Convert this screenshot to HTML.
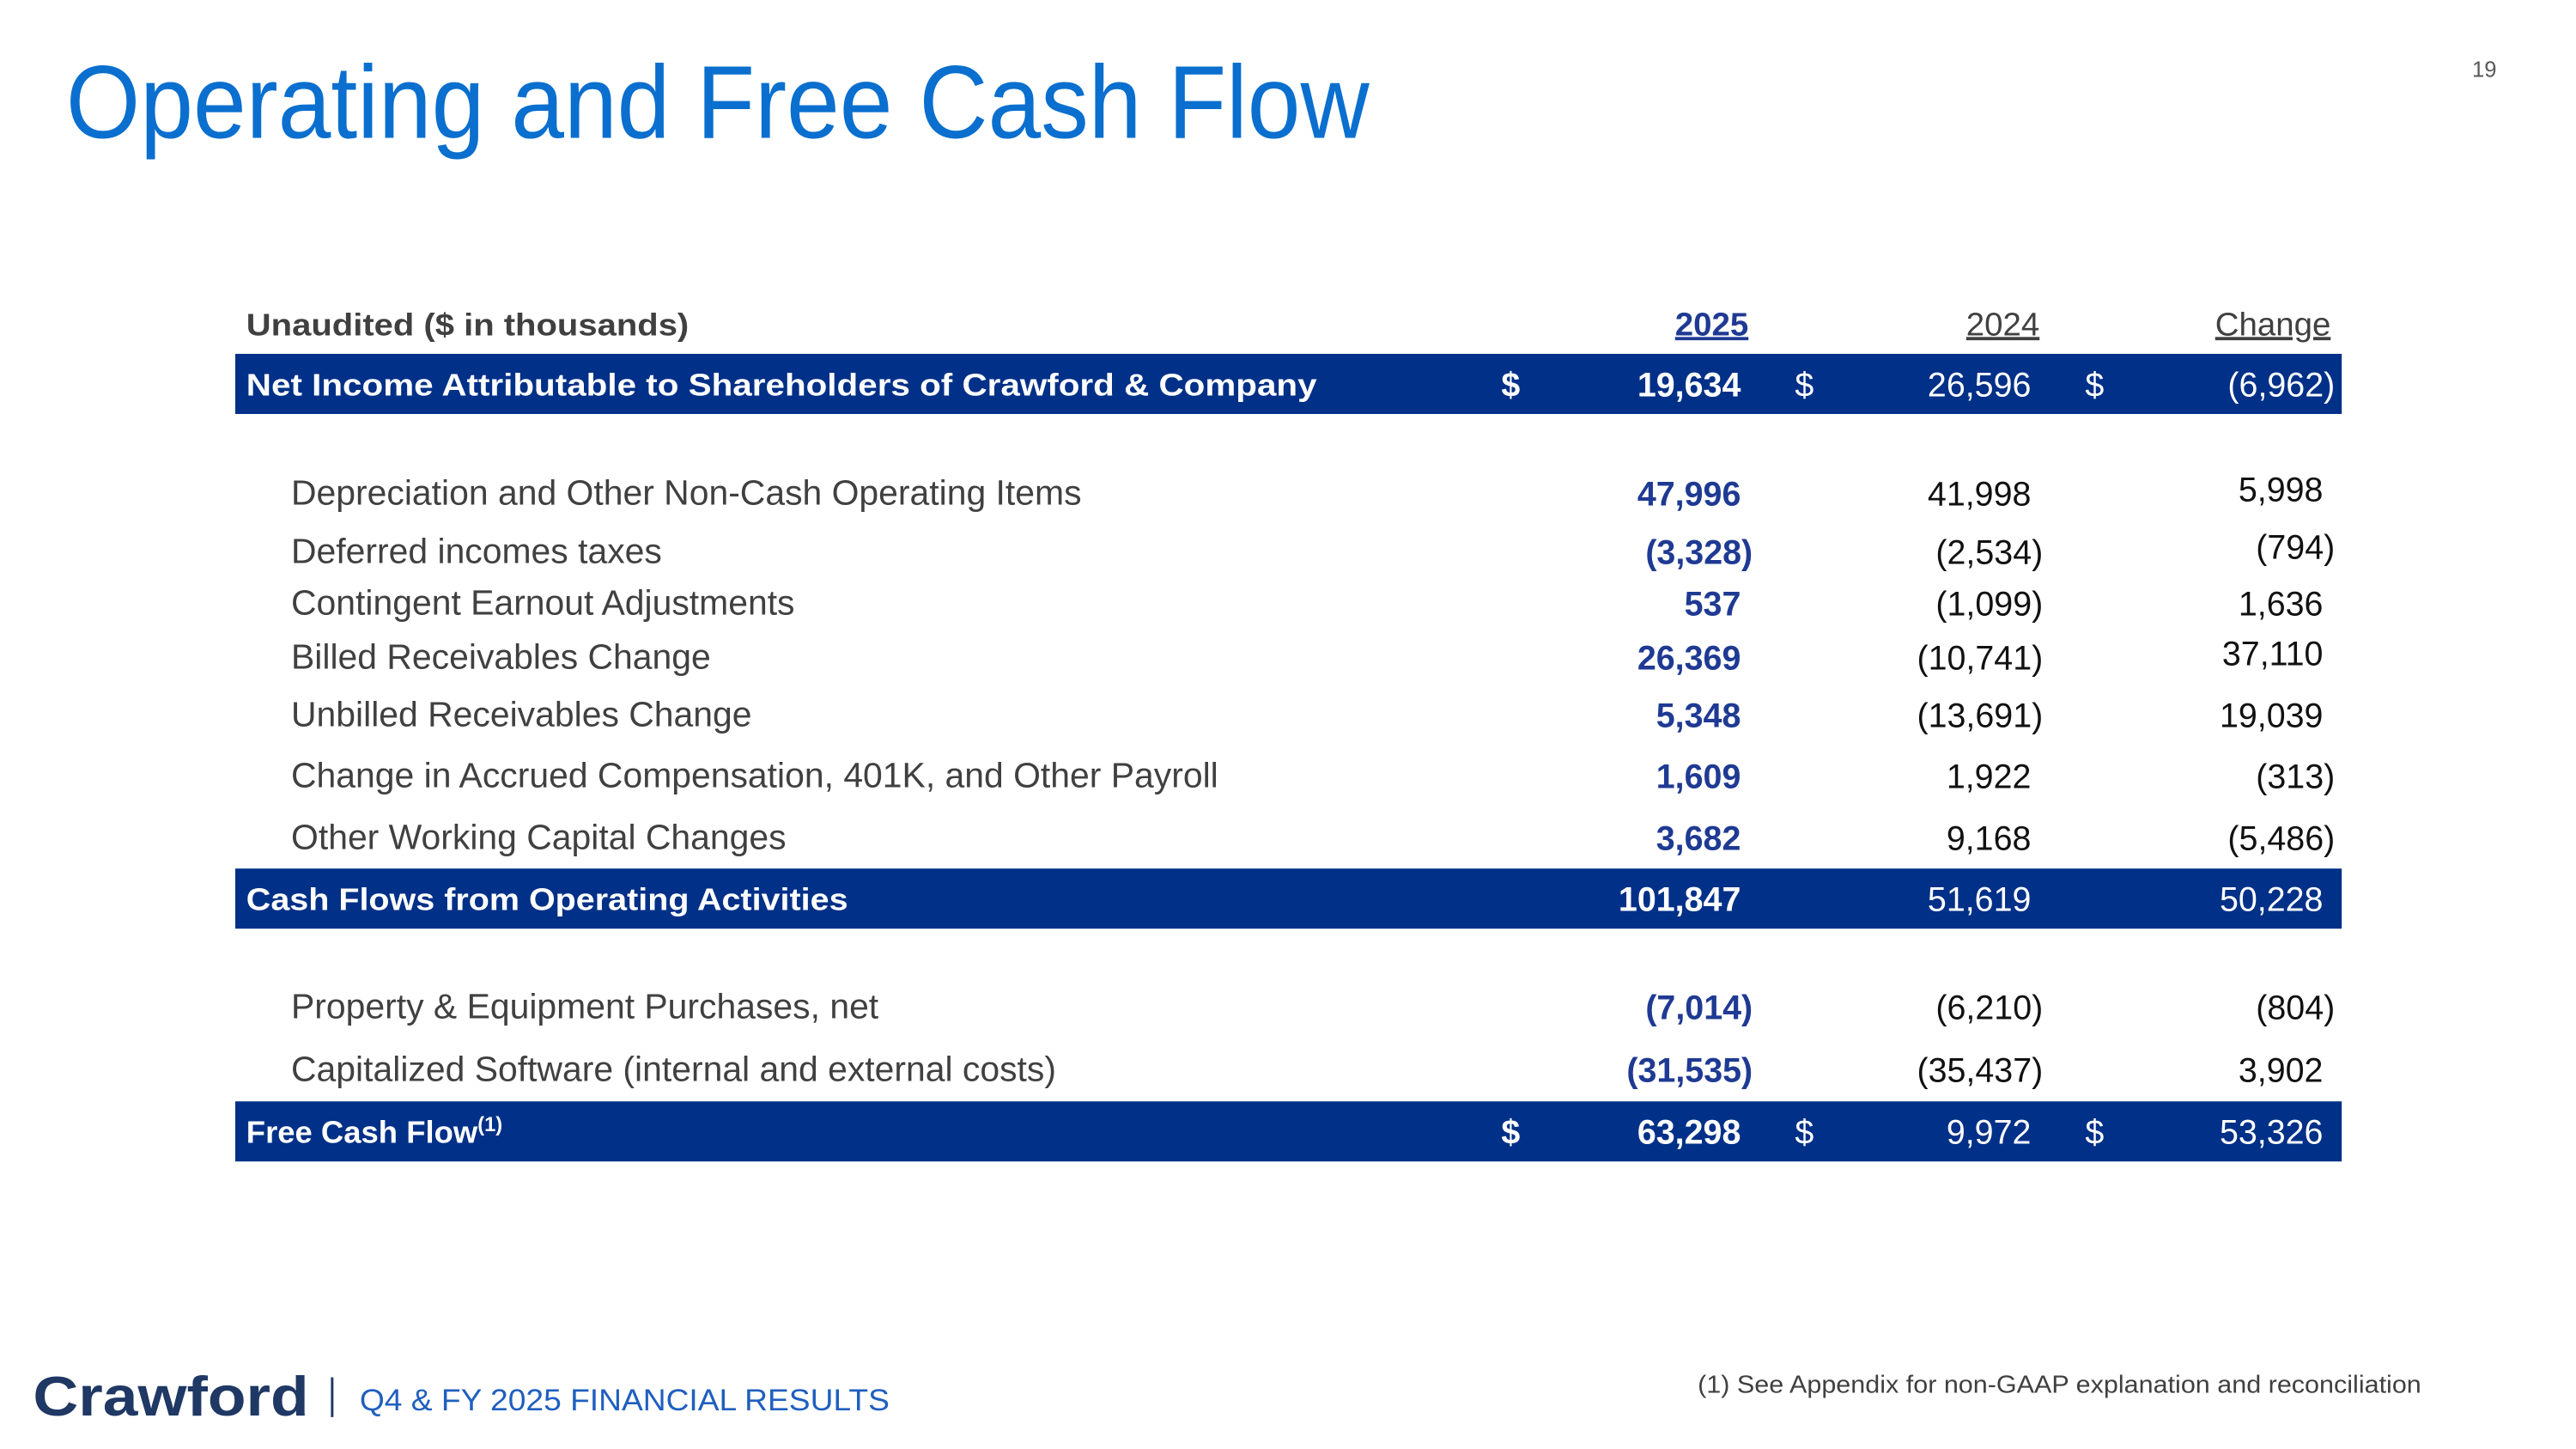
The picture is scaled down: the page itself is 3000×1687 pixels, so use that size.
<!DOCTYPE html>
<html><head><meta charset="utf-8"><style>
html,body{margin:0;padding:0;background:#fff;}
svg{display:block;font-family:"Liberation Sans",sans-serif;}
</style></head><body>
<svg id="slide" width="3000" height="1687" viewBox="0 0 3000 1687" xmlns="http://www.w3.org/2000/svg">
<g transform="scale(0.9856)">
<text x="78" y="163" font-size="122" fill="#0a6fce" textLength="1540" lengthAdjust="spacingAndGlyphs">Operating and Free Cash Flow</text>
<text x="2950" y="91" font-size="26" fill="#595959" text-anchor="end">19</text>
<text x="291" y="396" font-size="37" font-weight="bold" fill="#404040" textLength="523" lengthAdjust="spacingAndGlyphs">Unaudited ($ in thousands)</text>
<g id="hdr"></g>
<g id="rows"></g>
<text x="39" y="1672" font-size="66" font-weight="bold" fill="#1f3864" textLength="326" lengthAdjust="spacingAndGlyphs">Crawford</text>
<rect x="391" y="1627" width="3" height="47" fill="#1f3864"/>
<text x="425" y="1666" font-size="36" fill="#1f5fbf" textLength="626" lengthAdjust="spacingAndGlyphs">Q4 &amp; FY 2025 FINANCIAL RESULTS</text>
<text x="2006" y="1645" font-size="29" fill="#404040" textLength="855" lengthAdjust="spacingAndGlyphs">(1) See Appendix for non-GAAP explanation and reconciliation</text>
</g>
</svg>
<script>
const headers = ["2025", "2024", "Change"];
const labels = ["Net Income Attributable to Shareholders of Crawford & Company","Depreciation and Other Non-Cash Operating Items","Deferred incomes taxes","Contingent Earnout Adjustments","Billed Receivables Change","Unbilled Receivables Change","Change in Accrued Compensation, 401K, and Other Payroll","Other Working Capital Changes","Cash Flows from Operating Activities","Property & Equipment Purchases, net","Capitalized Software (internal and external costs)","Free Cash Flow"];
const values2025 = [19634,47996,-3328,537,26369,5348,1609,3682,101847,-7014,-31535,63298];
const values2024 = [26596,41998,-2534,-1099,-10741,-13691,1922,9168,51619,-6210,-35437,9972];
const valuesChange = [-6962,5998,-794,1636,37110,19039,-313,-5486,50228,-804,3902,53326];
const rowKinds = ["total","item","item","item","item","item","item","item","total","item","item","total"];

const NS="http://www.w3.org/2000/svg";
const rowY=[454,583,652,713,777,845,917,990,1062,1190,1264,1337];
const chgY=[454,578,646,713,772,845,917,990,1062,1190,1264,1337];
const colX=[2057,2400,2745];
const hdrX=[2066,2410,2754];
const dollarX=[1785,2132,2475];
const labelW={0:1265,8:711};
function fmt(v){const s=Math.abs(v).toLocaleString('en-US');return v<0?'('+s+')':s;}
function mk(tag,attrs,parent,txt){const e=document.createElementNS(NS,tag);for(const k in attrs)e.setAttribute(k,attrs[k]);if(txt!=null)e.textContent=txt;parent.appendChild(e);return e;}
const hdr=document.getElementById('hdr');
headers.forEach((h,i)=>{
  const t=mk('text',{x:hdrX[i],y:396,'font-size':39,'text-anchor':'end',fill:i===0?'#1f3a93':'#404040','font-weight':i===0?'bold':'normal','text-decoration':'underline'},hdr,h);
  
  
});
const rows=document.getElementById('rows');
labels.forEach((lab,i)=>{
  const total=rowKinds[i]==='total';
  const y=rowY[i];
  if(total){
    const r=mk('rect',{x:278,y:y-36,width:2489,height:71,fill:'#003087'},rows);
    
    
  }
  const lx=total?291:344;
  const ta={x:lx,y:y+13,'font-size':total?37:41.5,fill:total?'#fff':'#404040','font-weight':total?'bold':'normal'};
  if(labelW[i]){ta.textLength=labelW[i];ta.lengthAdjust='spacingAndGlyphs';}
  const lt=mk('text',ta,rows,lab);
  if(i===11){mk('tspan',{'font-size':24,dy:-14},lt,'(1)');}
  
  
  const vals=[values2025[i],values2024[i],valuesChange[i]];
  vals.forEach((v,c)=>{
    const yy=(c===2?chgY[i]:y)+14;
    const x=colX[c]+(v<0?14:0);
    const fill=total?'#fff':(c===0?'#1f3a93':'#111');
    const bold=(c===0);
    const vt=mk('text',{x:x,y:yy,'font-size':40,'text-anchor':'end',fill:fill,'font-weight':bold?'bold':'normal'},rows,fmt(v));
    
    
    if(i===0||i===11){
      const d=mk('text',{x:dollarX[c],y:y+14,'font-size':40,'text-anchor':'middle',fill:'#fff','font-weight':c===0?'bold':'normal'},rows,'$');
      
      
    }
  });
});
</script>
</body></html>
